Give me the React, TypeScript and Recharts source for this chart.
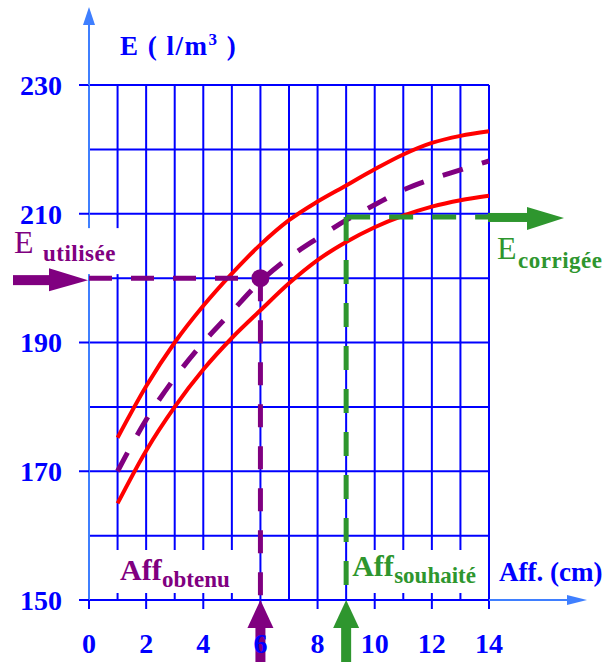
import React from 'react'
import {
  LineChart,
  Line,
  XAxis,
  YAxis,
  CartesianGrid,
  ReferenceLine,
  ReferenceDot,
} from 'recharts'

// Affaissement (cm) and concentration E (l/m3) read from the abacus
const aff = [1, 2, 3, 4, 5, 6, 7, 8, 9, 10, 11, 12, 13, 14]
const eUpper = [175.2, 183.2, 190, 195.7, 200.7, 205.2, 209, 211.9, 214.4, 216.9, 219.2, 221, 222.1, 222.8]
const eLower = [165, 173.2, 180, 185.8, 190.7, 195, 199.2, 202.8, 205.6, 207.9, 209.7, 211.1, 212.1, 212.8]
const eMid = [170, 178, 184.5, 190, 194.8, 199.5, 203.2, 206.2, 209, 211.4, 213.7, 215.4, 216.8, 218.2]

const xTicks = [0, 2, 4, 6, 8, 10, 12, 14]
const yTicks = [150, 170, 190, 210, 230]
const xGrid = [0, 1, 2, 3, 4, 5, 6, 7, 8, 9, 10, 11, 12, 13, 14]
const yGrid = [150, 160, 170, 180, 190, 200, 210, 220, 230]

// read points of the example
const affObtenu = 6
const eUsed = 200
const affWanted = 9
const eCorr = 209.5

const BLUE = '#0000ff'
const AXIS_BLUE = '#3f7fff'
const RED = '#ff0000'
const PURPLE = '#800080'
const GREEN = '#2e962e'
const FONT = '"Liberation Serif", "Times New Roman", serif'

const rows = aff.map((x, i) => ({ x, upper: eUpper[i], lower: eLower[i], mid: eMid[i] }))

type P = { cx?: number; cy?: number }

const YArrow = ({ cx = 0, cy = 0 }: P) => (
  <g>
    <line x1={cx} y1={cy} x2={cx} y2={cy - 62} stroke={AXIS_BLUE} strokeWidth={2} />
    <polygon points={`${cx},${cy - 78} ${cx - 6},${cy - 60} ${cx + 6},${cy - 60}`} fill={AXIS_BLUE} />
  </g>
)

const XArrow = ({ cx = 0, cy = 0 }: P) => (
  <g>
    <line x1={cx} y1={cy} x2={cx + 80} y2={cy} stroke={AXIS_BLUE} strokeWidth={2} />
    <polygon points={`${cx + 98},${cy} ${cx + 78},${cy - 5} ${cx + 78},${cy + 5}`} fill={AXIS_BLUE} />
  </g>
)

const LeftArrow = ({ cx = 0, cy = 0 }: P) => (
  <g fill={PURPLE}>
    <rect x={cx - 76} y={cy - 3} width={40} height={10} />
    <polygon points={`${cx - 1},${cy + 2} ${cx - 40},${cy - 10} ${cx - 40},${cy + 13}`} />
  </g>
)

const RightArrow = ({ cx = 0, cy = 0 }: P) => (
  <g fill={GREEN}>
    <rect x={cx - 1} y={cy - 4} width={40} height={9} />
    <polygon points={`${cx + 75},${cy + 1} ${cx + 38},${cy - 10} ${cx + 38},${cy + 13}`} />
  </g>
)

const upArrow = (color: string) => ({ cx = 0, cy = 0 }: P) => (
  <g fill={color}>
    <polygon points={`${cx},${cy} ${cx - 13},${cy + 28} ${cx + 13},${cy + 28}`} />
    <rect x={cx - 5} y={cy + 27} width={10} height={40} />
  </g>
)

const txt = { fontFamily: FONT }

const EUsedLabel = ({ cx = 0, cy = 0 }: P) => (
  <g>
    <rect x={cx - 89} y={cy - 50} width={130} height={46} fill="#fff" />
    <text fill={PURPLE} style={txt}>
      <tspan x={cx - 75} y={cy - 25} fontSize={32}>E</tspan>
      <tspan x={cx - 46} y={cy - 17} fontSize={23} fontWeight="bold" letterSpacing={0.5}>utilisée</tspan>
    </text>
  </g>
)

const ECorrLabel = ({ cx = 0, cy = 0 }: P) => (
  <text fill={GREEN} style={txt}>
    <tspan x={cx + 8} y={cy + 42} fontSize={32}>E</tspan>
    <tspan x={cx + 29} y={cy + 51} fontSize={23} fontWeight="bold" letterSpacing={0.5}>corrigée</tspan>
  </text>
)

const AffObtenuLabel = ({ cx = 0, cy = 0 }: P) => (
  <g>
    <rect x={cx + 16} y={cy - 50} width={140} height={43} fill="#fff" />
    <text fill={PURPLE} fontWeight="bold" style={txt}>
      <tspan x={cx + 31} y={cy - 20} fontSize={30}>Aff</tspan>
      <tspan x={cx + 73} y={cy - 13} fontSize={23}>obtenu</tspan>
    </text>
  </g>
)

const AffWantedLabel = ({ cx = 0, cy = 0 }: P) => (
  <g>
    <rect x={cx + 4} y={cy - 50} width={134} height={43} fill="#fff" />
    <text fill={GREEN} fontWeight="bold" style={txt}>
      <tspan x={cx + 6} y={cy - 24} fontSize={30}>Aff</tspan>
      <tspan x={cx + 48} y={cy - 17} fontSize={23}>souhaité</tspan>
    </text>
  </g>
)

const XTitle = ({ cx = 0, cy = 0 }: P) => (
  <text x={cx + 10} y={cy - 19} fontSize={27} fontWeight="bold" fill={BLUE} style={txt}>
    Aff. (cm)
  </text>
)

const YTitle = ({ cx = 0, cy = 0 }: P) => (
  <text x={cx + 31} y={cy - 30} fontSize={27} fontWeight="bold" fill={BLUE} letterSpacing={1.5} style={txt}>
    E ( l/m
    <tspan dy={-10} fontSize={17}>3</tspan>
    <tspan dy={10}> )</tspan>
  </text>
)

const tickStyle = { fill: BLUE, fontSize: 28, fontWeight: 'bold', fontFamily: FONT, style: txt }

export default function App() {
  return (
    <div style={{ position: 'absolute', left: 0, top: 0, background: '#fff', fontFamily: FONT }}>
      <LineChart width={614} height={662} data={rows} margin={{ top: 85, right: 125, bottom: 0, left: 0 }}>
        <CartesianGrid stroke={BLUE} strokeWidth={2} verticalValues={xGrid} horizontalValues={yGrid} />
        <XAxis
          dataKey="x"
          type="number"
          domain={[0, 14]}
          ticks={xTicks}
          height={62}
          axisLine={false}
          tickLine={{ stroke: BLUE, strokeWidth: 2 }}
          tickSize={9}
          tickMargin={24}
          tick={tickStyle}
          interval={0}
        />
        <YAxis
          type="number"
          domain={[150, 230]}
          ticks={yTicks}
          width={89}
          axisLine={false}
          tickLine={{ stroke: BLUE, strokeWidth: 2 }}
          tickSize={10}
          tickMargin={17}
          tick={tickStyle}
          interval={0}
        />
        <ReferenceLine
          segment={[{ x: 0, y: 150 }, { x: 0, y: 230 }]}
          stroke={AXIS_BLUE}
          strokeWidth={2}
          ifOverflow="visible"
        />
        <ReferenceDot x={0} y={230} ifOverflow="visible" shape={YArrow} />
        <ReferenceDot x={14} y={150} ifOverflow="visible" shape={XArrow} />
        <ReferenceDot x={0} y={eUsed} ifOverflow="visible" shape={EUsedLabel} />
        <ReferenceDot x={0} y={150} ifOverflow="visible" shape={AffObtenuLabel} />
        <ReferenceDot x={affWanted} y={150} ifOverflow="visible" shape={AffWantedLabel} />
        <ReferenceDot x={14} y={eCorr} ifOverflow="visible" shape={ECorrLabel} />
        <ReferenceDot x={14} y={150} ifOverflow="visible" shape={XTitle} />
        <ReferenceDot x={0} y={230} ifOverflow="visible" shape={YTitle} />

        <Line dataKey="upper" type="monotone" stroke={RED} strokeWidth={4} dot={false} isAnimationActive={false} />
        <Line dataKey="lower" type="monotone" stroke={RED} strokeWidth={4} dot={false} isAnimationActive={false} />
        <Line
          dataKey="mid"
          type="monotone"
          stroke={PURPLE}
          strokeWidth={5}
          strokeDasharray="21 20"
          dot={false}
          isAnimationActive={false}
        />

        <ReferenceLine
          segment={[{ x: 0, y: eUsed }, { x: affObtenu, y: eUsed }]}
          stroke={PURPLE}
          strokeWidth={5}
          strokeDasharray="23 19"
          ifOverflow="visible"
        />
        <ReferenceLine
          segment={[{ x: affObtenu, y: eUsed }, { x: affObtenu, y: 150 }]}
          stroke={PURPLE}
          strokeWidth={5}
          strokeDasharray="23 19"
          ifOverflow="visible"
        />
        <ReferenceLine
          segment={[{ x: affWanted, y: eCorr }, { x: 14, y: eCorr }]}
          stroke={GREEN}
          strokeWidth={5}
          strokeDasharray="24 19"
          ifOverflow="visible"
        />
        <ReferenceLine
          segment={[{ x: affWanted, y: eCorr }, { x: affWanted, y: 150 }]}
          stroke={GREEN}
          strokeWidth={5}
          strokeDasharray="24 19"
          ifOverflow="visible"
        />
        <ReferenceDot x={affObtenu} y={eUsed} r={9} fill={PURPLE} stroke="none" ifOverflow="visible" />
        <ReferenceDot x={0} y={eUsed} ifOverflow="visible" shape={LeftArrow} />
        <ReferenceDot x={14} y={eCorr} ifOverflow="visible" shape={RightArrow} />
        <ReferenceDot x={affObtenu} y={150} ifOverflow="visible" shape={upArrow(PURPLE)} />
        <ReferenceDot x={affWanted} y={150} ifOverflow="visible" shape={upArrow(GREEN)} />
      </LineChart>
    </div>
  )
}
